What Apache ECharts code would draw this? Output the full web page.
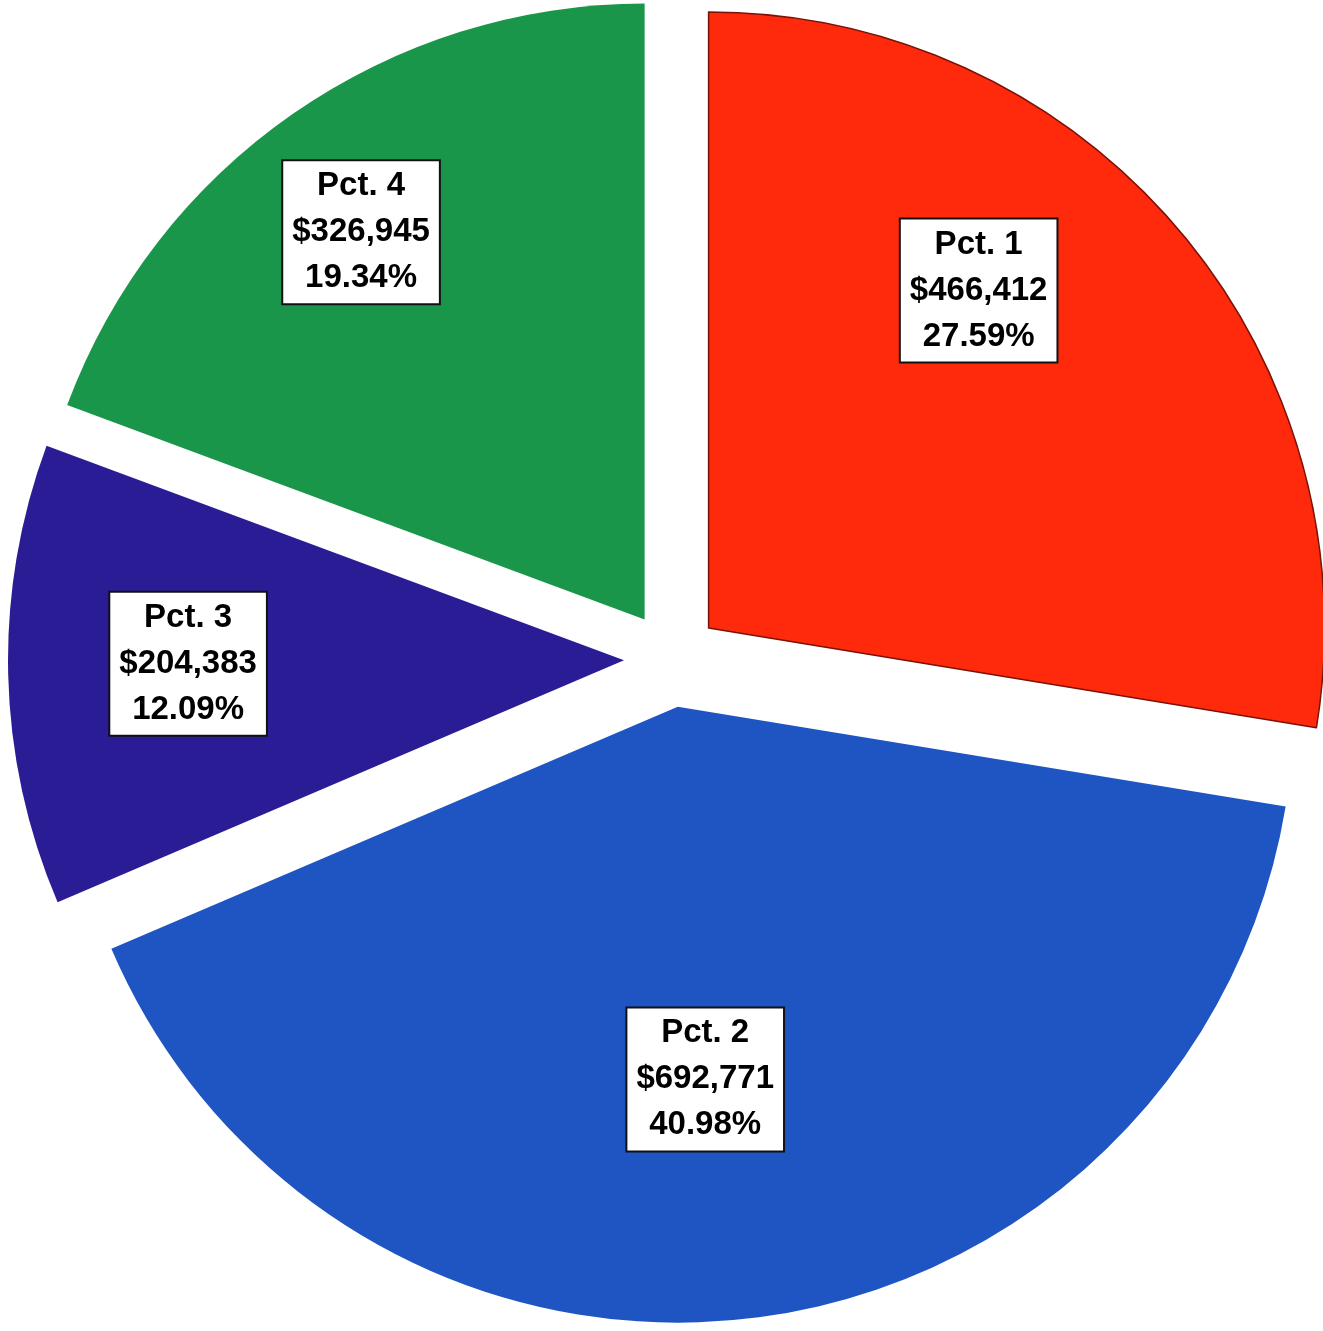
<!DOCTYPE html>
<html>
<head>
<meta charset="utf-8">
<script src="https://cdn.jsdelivr.net/npm/echarts@6/dist/echarts.min.js"></script>
<style>
html,body{margin:0;padding:0;background:#fff;}
#chart{width:1323px;height:1331px;}
</style>
</head>
<body>
<div id="chart"></div>
<script>
const categories = ["Pct. 1", "Pct. 2", "Pct. 3", "Pct. 4"];
const amounts = [466412, 692771, 204383, 326945];
const percents = ["27.59%", "40.98%", "12.09%", "19.34%"];

const sliceColors = ["#FF2A0C", "#1E55C2", "#2A1C94", "#1A964A"];
const labelShift = [[33, -136], [-10, 64], [-125, -4], [-106, -132]];

function money(v) {
  return "$" + v.toLocaleString("en-US");
}

const chart = echarts.init(document.getElementById("chart"), null, {renderer: "canvas"});
const data = categories.map((c, i) => ({
  name: c,
  value: amounts[i],
  selected: true,
  itemStyle: {
    color: sliceColors[i],
    borderColor: i === 0 ? "#7a1208" : sliceColors[i],
    borderWidth: i === 0 ? 1.5 : 0
  }
}));

chart.setOption({
  animation: false,
  backgroundColor: "#ffffff",
  series: [{
    type: "pie",
    center: [672, 659],
    radius: [0, 616],
    startAngle: 90,
    clockwise: true,
    selectedMode: "multiple",
    selectedOffset: 48,
    select: {itemStyle: {}},
    emphasis: {disabled: true},
    data: data,
    label: {
      show: true,
      position: "inside",
      formatter: function (p) {
        return p.name + "\n" + money(p.value) + "\n" + percents[p.dataIndex];
      },
      fontFamily: "Liberation Sans",
      fontWeight: "bold",
      fontSize: 33,
      lineHeight: 46,
      color: "#000",
      backgroundColor: "#ffffff",
      borderColor: "#111",
      borderWidth: 2,
      padding: [3, 9, 1, 9],
      align: "center"
    },
    labelLine: {show: false},
    labelLayout: function (params) {
      const s = labelShift[params.dataIndex];
      return {dx: s[0], dy: s[1]};
    }
  }]
});
</script>
</body>
</html>
